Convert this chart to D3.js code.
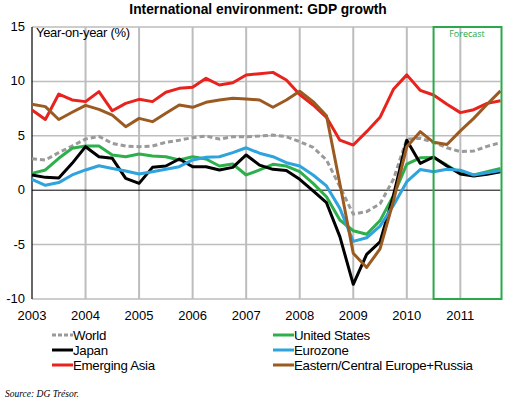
<!DOCTYPE html>
<html><head><meta charset="utf-8">
<script src="https://cdn.jsdelivr.net/npm/d3@7"></script>
<style>body{margin:0;background:#fff}svg{display:block;font-family:"Liberation Sans",Arial,sans-serif}</style>
</head><body><svg id="c" width="522" height="406"></svg>
<script>
const quarters = d3.range(36); // 2003Q1 .. 2011Q4
const yearLabels = ["2003","2004","2005","2006","2007","2008","2009","2010","2011"];
const yTicks = [15,10,5,0,-5,-10];
const world = [2.9,2.78,3.45,4.06,4.7,4.95,4.3,4.06,4.0,4.06,4.4,4.6,4.83,4.98,4.7,4.92,4.92,4.98,5.07,4.92,4.46,3.94,2.78,0.33,-2.2,-1.97,-1.25,1.0,4.7,4.77,4.4,3.9,3.54,3.6,4.03,4.37];
const us = [1.55,1.86,2.93,3.85,4.06,4.06,3.24,3.08,3.33,3.14,3.08,2.78,3.08,2.87,2.22,2.41,1.4,1.86,2.38,2.22,1.7,0.63,-0.6,-2.74,-3.73,-4.05,-2.8,-0.5,2.4,2.98,3.0,2.3,1.55,1.4,1.7,2.0];
const japan = [1.4,1.18,1.12,2.47,4.0,3.08,2.93,1.09,0.63,2.1,2.22,2.87,2.16,2.16,1.86,2.1,3.24,2.3,1.92,1.8,1.0,-0.07,-1.15,-4.27,-8.65,-5.9,-4.75,-0.5,4.6,2.47,3.05,2.22,1.49,1.3,1.46,1.7];
const eurozone = [1.0,0.45,0.7,1.4,1.86,2.25,2.0,1.76,1.49,1.7,1.92,2.16,2.78,3.02,3.08,3.45,3.9,3.4,3.08,2.53,2.22,1.4,0.39,-1.67,-4.7,-4.37,-3.3,-1.4,0.78,1.9,1.7,1.92,1.83,1.4,1.6,1.8];
const asia = [7.37,6.5,8.84,8.3,8.14,9.06,7.3,7.98,8.35,8.14,9.0,9.36,9.46,10.28,9.67,9.88,10.59,10.7,10.83,10.13,8.8,7.83,6.7,4.6,4.15,5.38,6.7,9.27,10.6,9.18,8.75,7.9,7.13,7.4,7.98,8.23];
const eece = [7.9,7.68,6.5,7.16,7.8,7.43,6.9,5.84,6.6,6.3,7.07,7.83,7.62,8.08,8.29,8.45,8.38,8.29,7.62,8.29,9.1,8.14,6.85,0.6,-5.8,-7.1,-5.4,-1.0,4.0,5.38,4.4,4.2,5.45,6.6,7.9,9.13];
const forecastStart = 30, forecastEnd = 35;

const series = [
  {name:"World", values:world, color:"#9a9a9a", dash:"5,3"},
  {name:"United States", values:us, color:"#2db04b"},
  {name:"Japan", values:japan, color:"#000000"},
  {name:"Eurozone", values:eurozone, color:"#2fa3dd"},
  {name:"Emerging Asia", values:asia, color:"#e8231d"},
  {name:"Eastern/Central Europe+Russia", values:eece, color:"#9b5a1f"}
];

const svg = d3.select("#c");
const x = d3.scaleLinear().domain([0,35]).range([32,500.5]);
const y = d3.scaleLinear().domain([-10,15]).range([299,27]);

svg.append("text").attr("x",258).attr("y",14).attr("text-anchor","middle")
  .attr("font-weight","bold").attr("font-size",13.8).text("International environment: GDP growth");

// horizontal grid
svg.append("g").selectAll("line").data(yTicks.filter(d=>d!==0)).join("line")
  .attr("x1",32).attr("x2",x(35)).attr("y1",d=>y(d)).attr("y2",d=>y(d))
  .attr("stroke","#bdbdbd").attr("stroke-width",1.5);
// vertical grid
svg.append("g").selectAll("line").data(yearLabels.slice(1)).join("line")
  .attr("x1",(d,i)=>x((i+1)*4)).attr("x2",(d,i)=>x((i+1)*4))
  .attr("y1",y(15)).attr("y2",y(-10)).attr("stroke","#bdbdbd").attr("stroke-width",2);
// zero line & y axis
svg.append("line").attr("x1",32).attr("x2",x(35)).attr("y1",y(0)).attr("y2",y(0)).attr("stroke","#000").attr("stroke-width",1);
svg.append("line").attr("x1",32).attr("x2",32).attr("y1",y(15)).attr("y2",y(-10)).attr("stroke","#000").attr("stroke-width",1.2);

// y labels
svg.append("g").selectAll("text").data(yTicks).join("text")
  .attr("x",25).attr("y",d=>y(d)+4).attr("text-anchor","end").attr("font-size",13).text(d=>d);
// x labels
svg.append("g").selectAll("text").data(yearLabels).join("text")
  .attr("x",(d,i)=>x(i*4)).attr("y",320).attr("text-anchor","middle").attr("font-size",13).text(d=>d);

svg.append("text").attr("x",36).attr("y",37).attr("font-size",13).attr("letter-spacing",-0.3).text("Year-on-year (%)");

const line = d3.line().x((d,i)=>x(quarters[i])).y(d=>y(d));
svg.append("g").selectAll("path").data(series).join("path")
  .attr("d",d=>line(d.values)).attr("fill","none").attr("stroke",d=>d.color)
  .attr("stroke-width",3).attr("stroke-dasharray",d=>d.dash||null).attr("stroke-linejoin","round");

// forecast box
svg.append("rect").attr("x",x(forecastStart)).attr("y",y(15)).attr("width",x(forecastEnd)-x(forecastStart)+1)
  .attr("height",y(-10)-y(15)).attr("fill","none").attr("stroke","#2aa84a").attr("stroke-width",2);
svg.append("text").attr("x",(x(forecastStart)+x(forecastEnd))/2).attr("y",37).attr("text-anchor","middle")
  .attr("font-size",9).attr("fill","#2aa84a").attr("font-family","Open Sans, sans-serif").text("Forecast");

// legend
const legendPos = [[52,335],[273,335],[52,350],[273,350],[52,365],[273,365]];
const legendOrder = ["World","United States","Japan","Eurozone","Emerging Asia","Eastern/Central Europe+Russia"];
const lg = svg.append("g").selectAll("g").data(legendOrder.map(n=>series.find(s=>s.name===n))).join("g")
  .attr("transform",(d,i)=>`translate(${legendPos[i][0]},${legendPos[i][1]})`);
lg.append("line").attr("x1",0).attr("x2",21).attr("y1",0).attr("y2",0).attr("stroke",d=>d.color)
  .attr("stroke-width",3).attr("stroke-dasharray",d=>d.dash?"4,2":null);
lg.append("text").attr("x",21).attr("y",5).attr("font-size",13.3).attr("letter-spacing",-0.3).text(d=>d.name);

svg.append("text").attr("x",5).attr("y",397).attr("font-size",9.5).attr("font-style","italic")
  .attr("font-family","Liberation Serif, serif").text("Source: DG Trésor.");
</script></body></html>
